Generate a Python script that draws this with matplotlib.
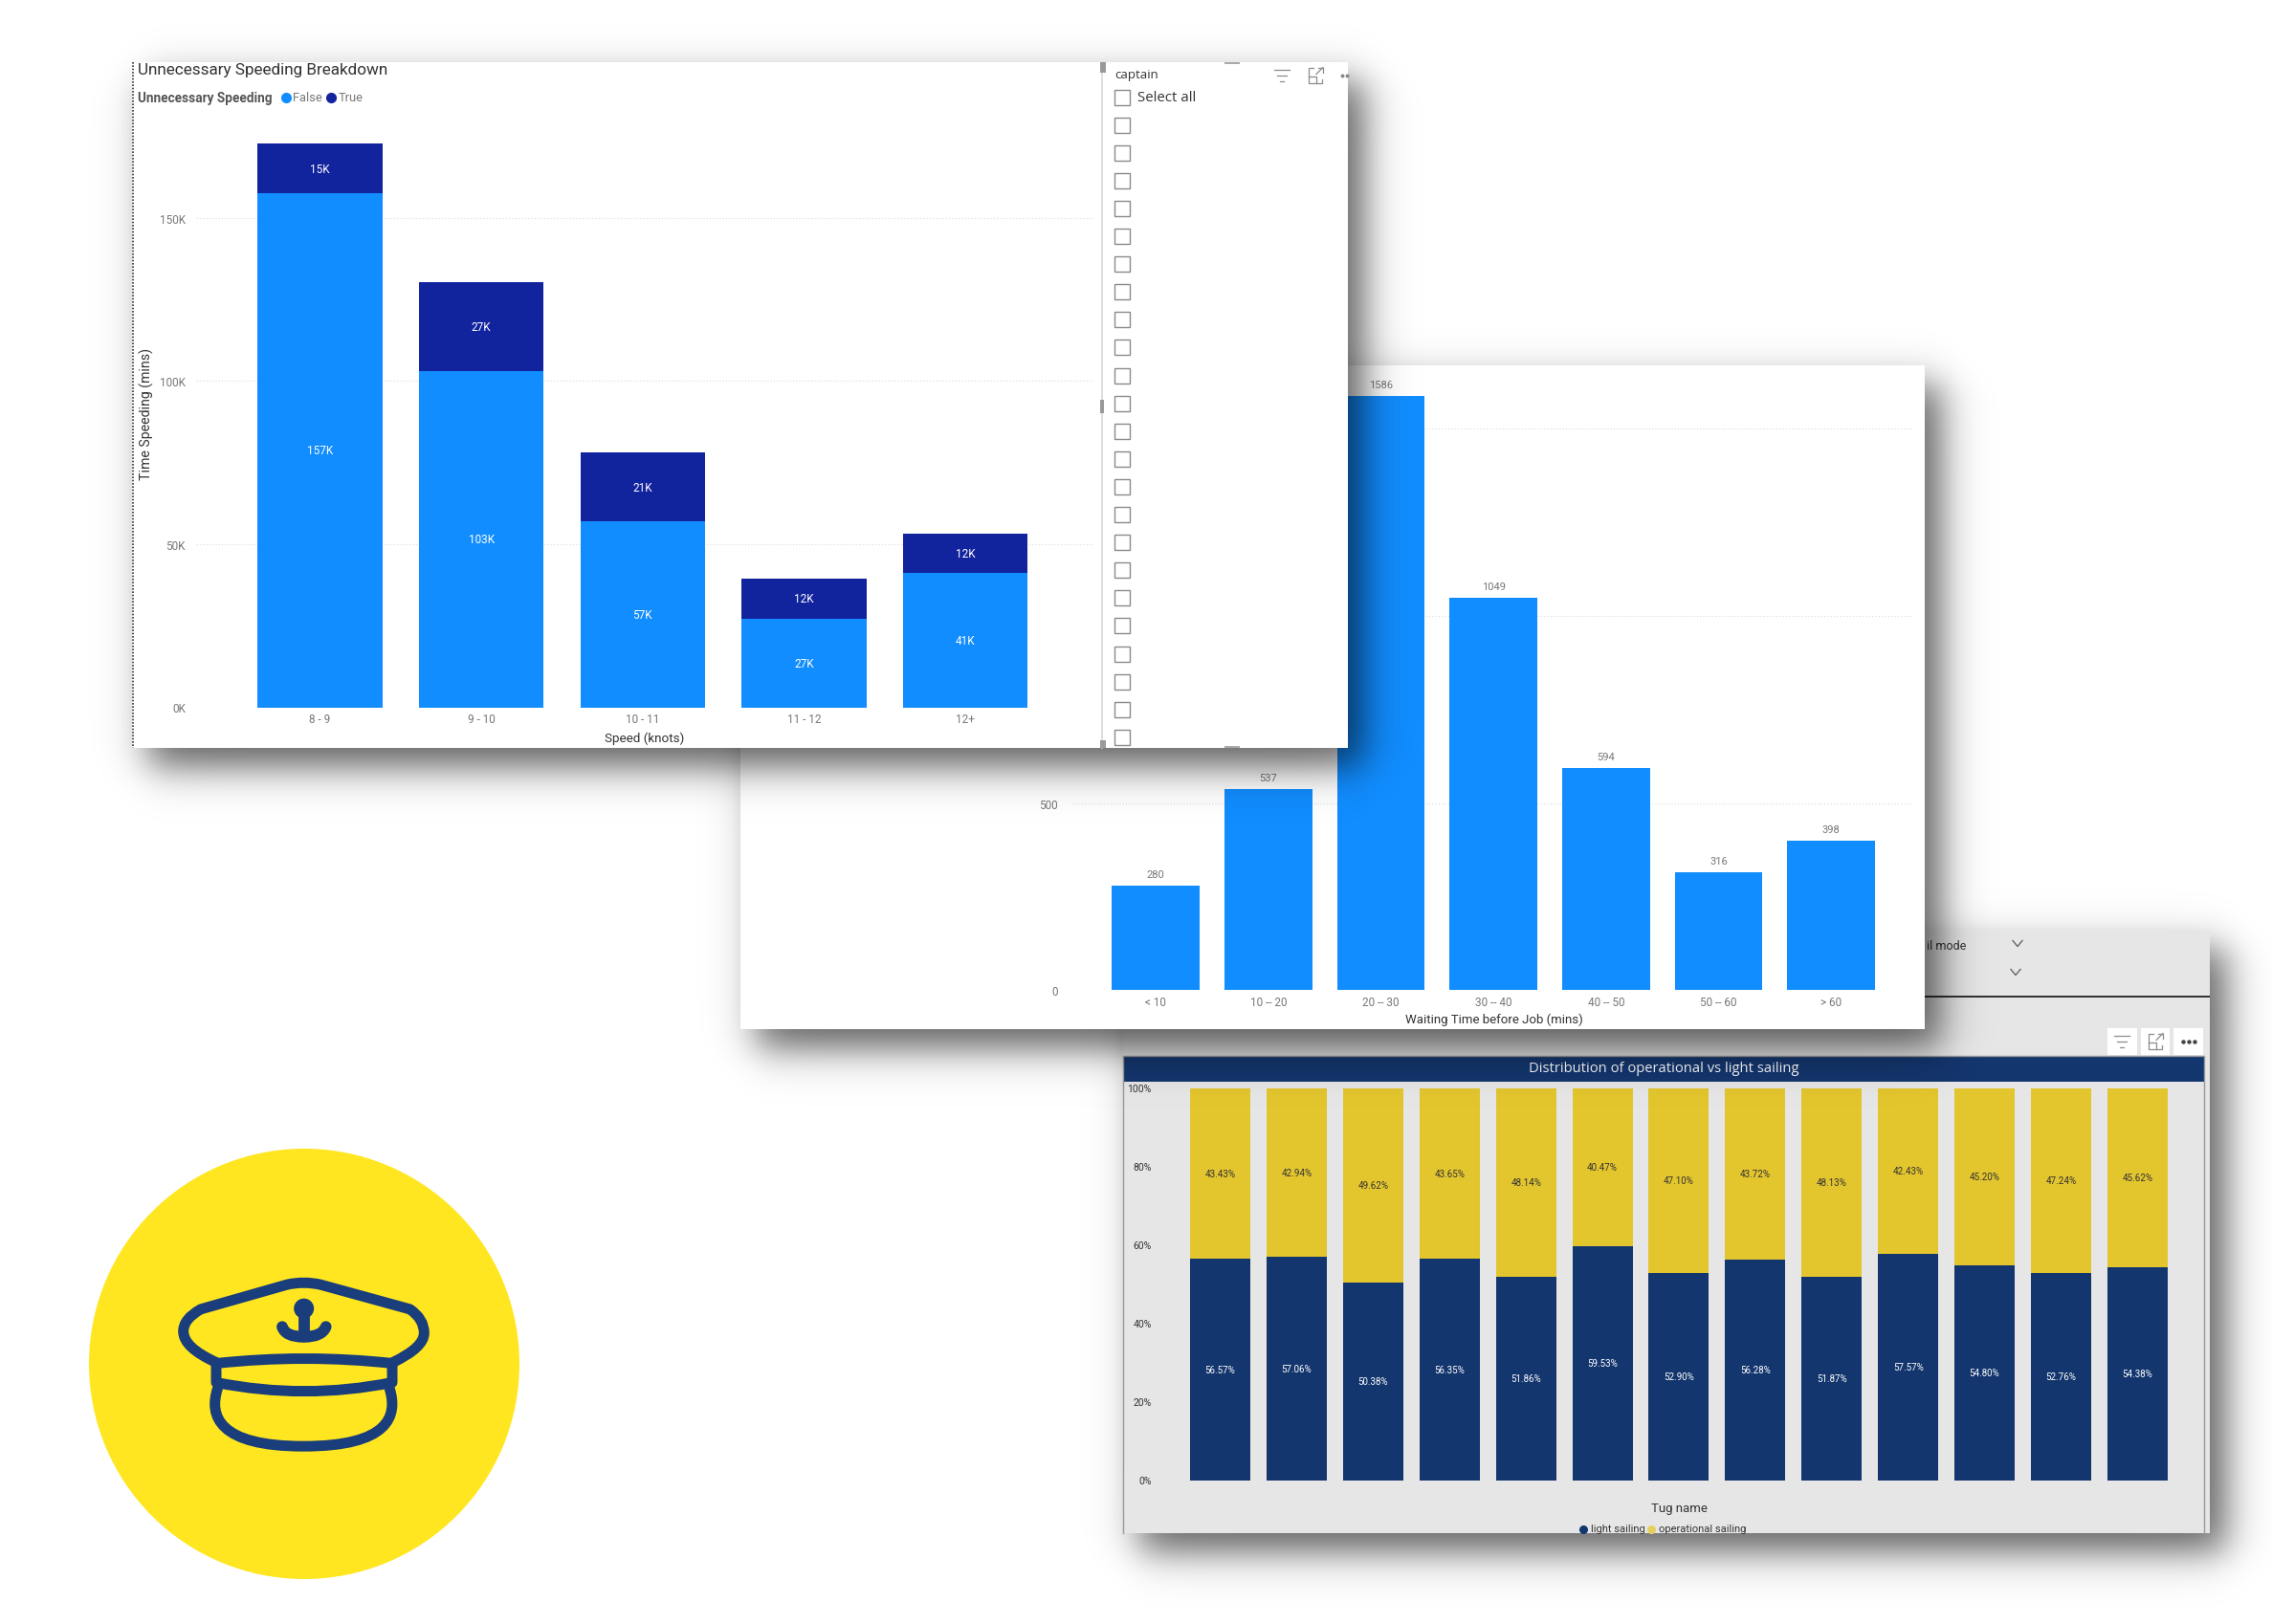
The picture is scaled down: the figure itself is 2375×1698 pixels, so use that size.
import numpy as np
import matplotlib
matplotlib.use("Agg")
import matplotlib.pyplot as plt
from matplotlib.patches import Circle, PathPatch, Rectangle
from matplotlib.path import Path

# Figure size in pixels
W = 2375
H = 1699
Y_SHIFT = 0.5

# Speeding chart (values in thousands of minutes)
speed_bins = ["8 - 9", "9 - 10", "10 - 11", "11 - 12", "12+"]
speed_false = [157.4, 102.9, 57.0, 27.2, 41.2]
speed_true = [15.4, 27.3, 21.0, 12.3, 12.0]
speed_ticks = [0, 50, 100, 150]
speed_tick_labels = ["0K", "50K", "100K", "150K"]

# Waiting time chart
wait_bins = ["< 10", "10 -- 20", "20 -- 30", "30 -- 40", "40 -- 50", "50 -- 60", "> 60"]
wait_counts = [280, 537, 1586, 1049, 594, 316, 398]
wait_ticks = [0, 500, 1000, 1500]

# Sailing chart (percent per tug)
light_sailing = [56.57, 57.06, 50.38, 56.35, 51.86, 59.53, 52.90, 56.28, 51.87, 57.57, 54.80, 52.76, 54.38]
operational_sailing = [43.43, 42.94, 49.62, 43.65, 48.14, 40.47, 47.10, 43.72, 48.13, 42.43, 45.20, 47.24, 45.62]
sailing_ticks = [0, 20, 40, 60, 80, 100]

BLUE = "#118DFF"
DARK_BLUE = "#12239E"
NAVY = "#14366E"
GOLD = "#E3C52E"
HAT_BLUE = "#1A3D7C"
HAT_YELLOW = "#FFE620"
TICK_GREY = "#777777"
TEXT_GREY = "#555555"
GRID_GREY = "#DADADA"

plt.rcParams["font.family"] = ["Roboto", "DejaVu Sans"]
fig = plt.figure(figsize=(W / 100, H / 100), dpi=100, facecolor="white")


# Full figure axes that work in image pixels, one per layer
def canvas(z):
    ax = fig.add_axes([0, 0, 1, 1], zorder=z)
    ax.set_xlim(0, W)
    ax.set_ylim(H - Y_SHIFT, -Y_SHIFT)
    ax.axis("off")
    return ax


def chart_axes(x0, y0, x1, y1, z):
    ax = fig.add_axes([x0 / W, 1 - (y1 + Y_SHIFT) / H, (x1 - x0) / W, (y1 - y0) / H], zorder=z)
    ax.patch.set_visible(False)
    for spine in ax.spines.values():
        spine.set_visible(False)
    ax.tick_params(length=0)
    return ax


# Soft drop shadow under a panel
def shadow(ax, x0, y0, x1, y1, dx=17, dy=20, s=24, a=0.62):
    xa, xb = int(x0 - 60), min(int(x1 + 130), W)
    ya, yb = int(y0 - 60), min(int(y1 + 130), H)
    xs = np.arange(xa, xb) + 0.5
    ys = np.arange(ya, yb) + 0.5
    fx = 0.5 * (np.tanh((xs - x0 - dx) / s) - np.tanh((xs - x1 - dx) / s))
    fy = 0.5 * (np.tanh((ys - y0 - dy) / s) - np.tanh((ys - y1 - dy) / s))
    rgba = np.zeros((len(ys), len(xs), 4), dtype=np.float32)
    rgba[..., 3] = a * np.outer(fy, fx)
    ax.imshow(rgba, extent=(xa, xb, yb, ya), aspect="auto", interpolation="bilinear", zorder=0)
    ax.set_xlim(0, W)
    ax.set_ylim(H - Y_SHIFT, -Y_SHIFT)


def rect(ax, x0, y0, x1, y1, color, z=1, **kw):
    ax.add_patch(Rectangle((x0, y0), x1 - x0, y1 - y0, facecolor=color, edgecolor="none", zorder=z, **kw))


# The small visual header icons
def filter_icon(ax, x, y, color="#8C8C8C"):
    for off, half in [(-6, 8), (0, 5), (6, 2)]:
        ax.plot([x - half, x + half], [y + off, y + off], color=color, lw=0.9, zorder=3)


def expand_icon(ax, x, y, color="#8C8C8C"):
    ax.plot([x - 2, x - 7, x - 7, x + 7, x + 7], [y - 8, y - 8, y + 8, y + 8, y + 4], color=color, lw=0.9, zorder=3)
    ax.plot([x - 7, x + 1, x + 1], [y + 1, y + 1, y + 8], color=color, lw=0.9, zorder=3)
    ax.plot([x + 1, x + 8], [y - 1, y - 8], color=color, lw=0.9, zorder=3)
    ax.plot([x + 3, x + 8, x + 8], [y - 8, y - 8, y - 3], color=color, lw=0.9, zorder=3)


def chevron(ax, x, y):
    ax.plot([x - 5, x, x + 5], [y - 3, y + 3, y - 3], color="#666666", lw=1.0, zorder=3)


# Hat logo, points taken in a 3x crop of the image
def hat_xy(points):
    return [(120 + px / 3, 1281 + py / 3) for px, py in points]


def hat_line(ax, points, codes, lw=7.9):
    path = Path(hat_xy(points), codes)
    ax.add_patch(PathPatch(path, facecolor="none", edgecolor=HAT_BLUE, lw=lw, capstyle="round", joinstyle="round", zorder=3))


def draw_hat(ax):
    ax.add_patch(Circle((318, 1426.5), 225, facecolor=HAT_YELLOW, edgecolor="none", zorder=1))
    C3 = Path.CURVE3
    C4 = Path.CURVE4
    M = Path.MOVETO
    L = Path.LINETO
    # crown
    hat_line(ax, [(318, 432), (215, 385), (215, 335), (215, 295), (270, 265), (540, 188), (592, 176), (645, 188),
                  (925, 265), (970, 295), (970, 340), (970, 385), (872, 432)],
             [M, C3, C3, C3, C3, L, C3, C3, L, C3, C3, C3, C3])
    # band
    hat_line(ax, [(318, 435), (595, 405), (872, 435)], [M, C3, C3])
    hat_line(ax, [(318, 435), (318, 495), (595, 550), (870, 495), (870, 435)], [M, L, C3, C3, L])
    # visor
    hat_line(ax, [(322, 515), (295, 600), (325, 695), (592, 695), (860, 695), (888, 600), (862, 515)],
             [M, C4, C4, C4, C4, C4, C4])
    # anchor
    hat_line(ax, [(593, 262), (593, 350)], [M, L], lw=8.5)
    hat_line(ax, [(525, 320), (535, 352), (593, 352), (650, 352), (662, 320)], [M, C3, C3, C3, C3], lw=8.5)
    ax.add_patch(Circle((120 + 593 / 3, 1281 + 263 / 3), 10.5, facecolor=HAT_BLUE, edgecolor="none", zorder=3))


# ---- Logo ----
logo = canvas(0)
draw_hat(logo)

# ---- Sailing panel, at the back ----
back = canvas(1)
shadow(back, 1174, 973, 2310, 1603)
rect(back, 1174, 973, 2310, 1603, "#E6E6E6")
rect(back, 1800, 1041, 2310, 1043, "#333333", z=2)
back.text(2014, 989, "il mode", fontsize=9, color="#333333", va="center", ha="left", zorder=3)
chevron(back, 2109, 987)
chevron(back, 2107, 1017)
for x0, x1 in [(2203, 2234), (2238, 2268), (2272, 2303)]:
    rect(back, x0, 1075, x1, 1103, "white", z=2)
filter_icon(back, 2218, 1089)
expand_icon(back, 2253, 1089)
back.plot([2282, 2288, 2294], [1089, 1089, 1089], ls="none", marker="o", ms=2.2, color="#444444", zorder=3)
rect(back, 1174, 1104, 2304, 1131, NAVY, z=2)
back.plot([1174, 1174, 2304, 2304], [1603, 1104, 1104, 1603], color="#999999", lw=1.0, zorder=3)
back.text(1739, 1117, "Distribution of operational vs light sailing", color="white", fontsize=10.6,
          family="Open Sans", ha="center", va="center", zorder=3)
back.text(1755, 1577, "Tug name", color="#333333", fontsize=9.5, ha="center", va="center", zorder=3)
back.plot([1655], [1599], marker="o", ms=5.5, color=NAVY, zorder=3)
back.text(1663, 1599, "light sailing", color="#333333", fontsize=8, ha="left", va="center", zorder=3)
back.plot([1726], [1599], marker="o", ms=5.5, color="#E8D060", zorder=3)
back.text(1734, 1599, "operational sailing", color="#333333", fontsize=8, ha="left", va="center", zorder=3)

sail = chart_axes(1215, 1138, 2295, 1548, 2)
sail_x = np.arange(len(light_sailing))
sail_light = sail.bar(sail_x, light_sailing, width=0.788, color=NAVY)
sail_oper = sail.bar(sail_x, operational_sailing, width=0.788, bottom=light_sailing, color=GOLD)
sail.bar_label(sail_light, labels=[f"{v:.2f}%" for v in light_sailing], label_type="center", color="white", fontsize=7)
sail.bar_label(sail_oper, labels=[f"{v:.2f}%" for v in operational_sailing], label_type="center", color="#333333", fontsize=7)
sail.set_xlim(-0.758, 12.76)
sail.set_ylim(0, 100)
sail.set_xticks([])
sail.set_yticks(sailing_ticks, [f"{t}%" for t in sailing_ticks], fontsize=7.5, color="#333333")
sail.tick_params(axis="y", pad=8)

# ---- Waiting time panel ----
mid = canvas(3)
shadow(mid, 774, 382, 2012, 1076)
rect(mid, 774, 382, 2012, 1076, "white")
mid.text(1562, 1066, "Waiting Time before Job (mins)", color="#333333", fontsize=9.5, ha="center", va="center", zorder=3)

wait = chart_axes(1120, 400, 2000, 1035.7, 4)
wait_x = np.arange(len(wait_counts))
wait_bars = wait.bar(wait_x, wait_counts, width=0.778, color=BLUE)
wait.bar_label(wait_bars, fontsize=8, color=TICK_GREY, padding=5)
wait.set_xlim(-0.75, 6.73)
wait.set_ylim(0, 635.7 / 0.3914)
wait.set_xticks(wait_x, wait_bins, fontsize=8.5, color=TICK_GREY)
wait.set_yticks(wait_ticks, [str(t) for t in wait_ticks], fontsize=8.5, color=TICK_GREY)
wait.tick_params(axis="x", pad=4)
wait.tick_params(axis="y", pad=10)
wait.yaxis.grid(True, linestyle=(0, (1, 2)), color=GRID_GREY, lw=0.8)
wait.set_axisbelow(True)

# ---- Speeding panel, at the front ----
front = canvas(5)
shadow(front, 138, 65, 1409, 782)
rect(front, 138, 65, 1409, 782, "white")
front.plot([139, 139], [65, 782], color="#333333", lw=1.2, linestyle=(0, (1, 1)), zorder=3)
front.text(144, 72.5, "Unnecessary Speeding Breakdown", fontsize=12.3, color="#333333", va="center", ha="left", zorder=3)
front.text(144, 102, "Unnecessary Speeding", fontsize=9.8, weight="bold", color=TEXT_GREY, va="center", ha="left", zorder=3)
front.plot([298.6], [102], marker="o", ms=7, color=BLUE, zorder=3)
front.text(306, 102, "False", fontsize=9.3, color=TICK_GREY, va="center", ha="left", zorder=3)
front.plot([346], [102], marker="o", ms=7, color=DARK_BLUE, zorder=3)
front.text(354, 102, "True", fontsize=9.3, color=TICK_GREY, va="center", ha="left", zorder=3)
front.text(153, 432, "Time Speeding (mins)", fontsize=10.2, color="#333333", rotation=90, va="center", ha="center", zorder=3)
front.text(674, 772, "Speed (knots)", fontsize=9.7, color="#333333", va="center", ha="center", zorder=3)

speed = chart_axes(205, 120, 1143, 740, 6)
speed_x = np.arange(len(speed_bins))
bars_false = speed.bar(speed_x, speed_false, width=0.773, color=BLUE)
bars_true = speed.bar(speed_x, speed_true, width=0.773, bottom=speed_false, color=DARK_BLUE)
speed.bar_label(bars_false, labels=[f"{v:.0f}K" for v in speed_false], label_type="center", color="white", fontsize=8.5)
speed.bar_label(bars_true, labels=[f"{v:.0f}K" for v in speed_true], label_type="center", color="white", fontsize=8.5)
speed.set_xlim(-0.768, 4.795)
speed.set_ylim(0, 620 / 3.412)
speed.set_xticks(speed_x, speed_bins, fontsize=8.5, color=TICK_GREY)
speed.set_yticks(speed_ticks, speed_tick_labels, fontsize=8.5, color=TICK_GREY)
speed.tick_params(axis="x", pad=4)
speed.tick_params(axis="y", pad=8)
speed.yaxis.grid(True, linestyle=(0, (1, 2)), color=GRID_GREY, lw=0.8)
speed.set_axisbelow(True)

# Captain slicer on the right of the front panel
front.plot([1152, 1152], [65, 782], color="#D8D8D8", lw=1.2, zorder=3)
rect(front, 1150, 65, 1156, 76, "#999999", z=4)
rect(front, 1150, 418, 1154, 432, "#999999", z=4)
rect(front, 1150, 774, 1156, 782, "#999999", z=4)
rect(front, 1280, 65, 1296, 67, "#AAAAAA", z=4)
rect(front, 1280, 780, 1296, 782, "#AAAAAA", z=4)
front.text(1165, 77.5, "captain", fontsize=9.5, family="Open Sans", color="#333333", va="center", ha="left", zorder=3)
filter_icon(front, 1340, 79)
expand_icon(front, 1375, 79)
front.plot([1403, 1408], [79, 79], ls="none", marker="o", ms=1.8, color="#888888", zorder=3)
front.text(1189, 102, "Select all", fontsize=10.8, family="Open Sans", color="#333333", va="center", ha="left", zorder=3)
for row in range(24):
    yc = 102 + row * 29.1
    front.add_patch(Rectangle((1164.5, yc - 8), 16, 16, facecolor="white", edgecolor="#8A8A8A", lw=1.0, zorder=3,
                              clip_path=Rectangle((138, 65), 1271, 717, transform=front.transData)))

fig.savefig("out.png", dpi=100, facecolor="white")
